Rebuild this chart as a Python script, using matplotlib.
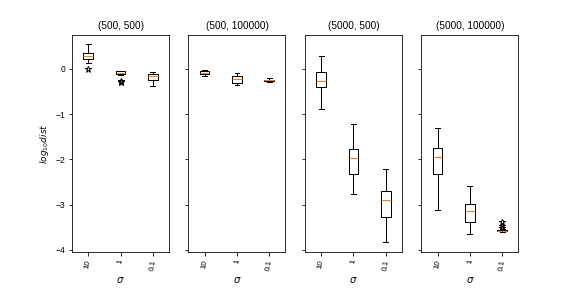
import matplotlib
matplotlib.use('Agg')
import matplotlib.pyplot as plt

plt.rcParams['font.family'] = ['Liberation Sans', 'DejaVu Sans']

# ── datos (log10 dist) ─────────────────────────────────────
titulos = ['(500, 500)', '(500, 100000)', '(5000, 500)', '(5000, 100000)']
sigmas = ['10', '1', '0.1']

# por panel: [bigote_inf, q1, mediana, q3, bigote_sup] por sigma
cajas = [
    [[0.13, 0.22, 0.29, 0.35, 0.55],
     [-0.14, -0.12, -0.09, -0.05, -0.045],
     [-0.37, -0.24, -0.155, -0.11, -0.07]],
    [[-0.155, -0.11, -0.096, -0.045, -0.02],
     [-0.355, -0.31, -0.22, -0.155, -0.09],
     [-0.29, -0.27, -0.25, -0.235, -0.2]],
    [[-0.885, -0.40, -0.265, -0.07, 0.29],
     [-2.765, -2.32, -1.97, -1.77, -1.225],
     [-3.83, -3.27, -2.90, -2.70, -2.21]],
    [[-3.12, -2.32, -1.95, -1.75, -1.31],
     [-3.65, -3.385, -3.14, -2.99, -2.59],
     [-3.605, -3.59, -3.58, -3.555, -3.54]],
]
atipicos = [
    [[0.0], [-0.26, -0.28, -0.30], []],
    [[], [], []],
    [[], [], []],
    [[], [], [-3.39, -3.48, -3.52]],
]

fig, axes = plt.subplots(1, 4, figsize=(8, 4), dpi=72, sharey=True)
fig.subplots_adjust(left=0.125, right=0.9, top=0.88, bottom=0.125, wspace=0.2)

for ax, titulo, panel, outs in zip(axes, titulos, cajas, atipicos):
    stats = []
    for s, (wl, q1, med, q3, wh), fl in zip(sigmas, panel, outs):
        stats.append(dict(whislo=wl, q1=q1, med=med, q3=q3, whishi=wh,
                          fliers=fl, label=s))
    ax.bxp(stats, widths=0.3,
           flierprops=dict(marker='*', markerfacecolor='none',
                           markeredgecolor='k', markersize=7))
    ax.set_title(titulo, fontsize=10)
    ax.set_xlabel(r'$\sigma$', fontsize=10)
    ax.tick_params(axis='x', labelrotation=80, labelsize=8)
    ax.tick_params(axis='y', labelsize=8.5)

axes[0].set_ylim(-4.05, 0.76)
axes[0].set_yticks([0, -1, -2, -3, -4])
axes[0].set_ylabel(r'$log_{10}dist$', fontsize=9)

plt.savefig('out.png', dpi=72)
plt.close()
